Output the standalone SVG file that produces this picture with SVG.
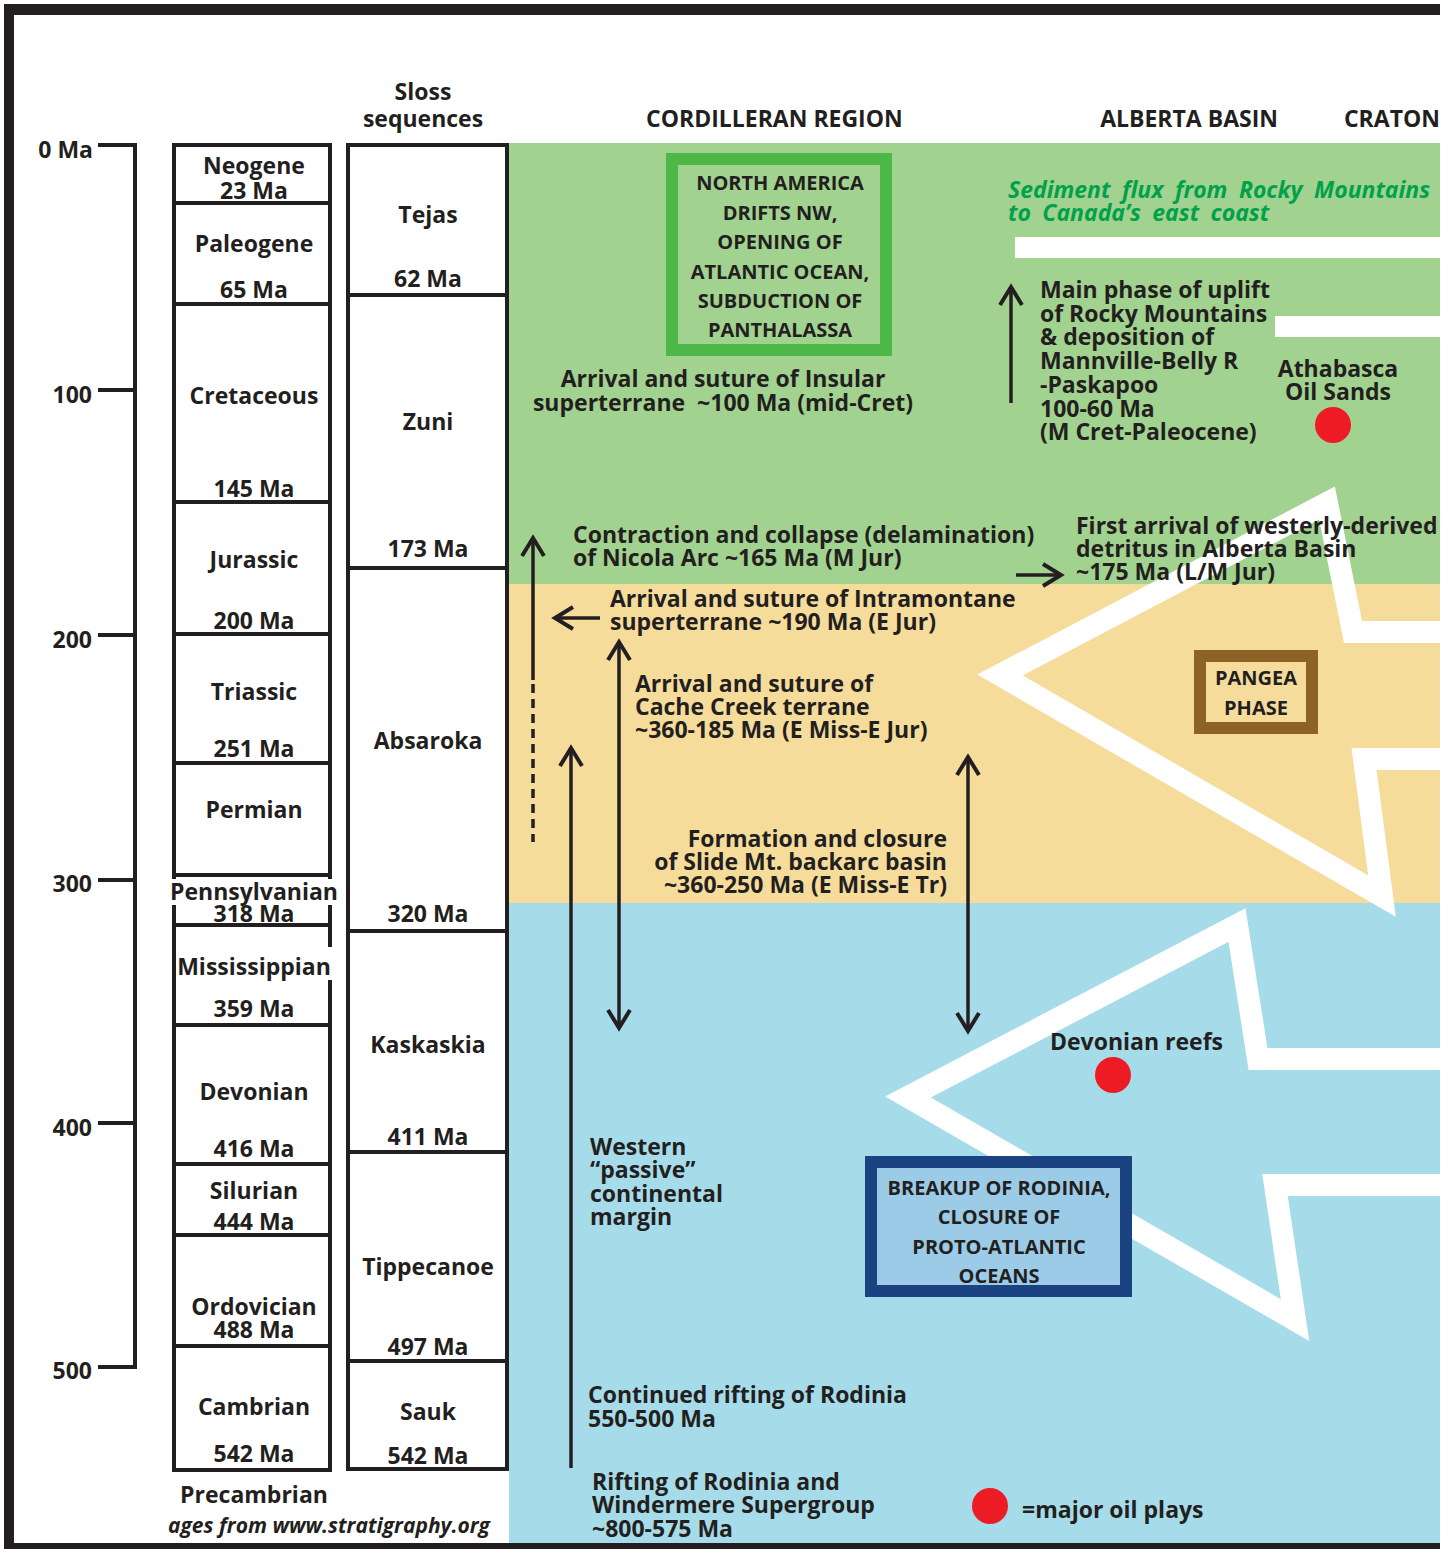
<svg xmlns="http://www.w3.org/2000/svg" width="1453" height="1549" viewBox="0 0 1453 1549">
<style>
.t{font-family:"Open Sans","Liberation Sans",sans-serif;font-weight:700;font-size:23px;fill:#231f20}
.c{text-anchor:middle}
.e{text-anchor:end}
.bx{font-size:20px}
.gi{font-style:italic;fill:#00a14b;word-spacing:5.5px}
.col{fill:#fff;stroke:#231f20;stroke-width:4}
.ln{stroke:#231f20;stroke-width:3.5;fill:none}
.wa{fill:none;stroke:#fff;stroke-width:22;stroke-linejoin:miter}
</style>
<defs>
<marker id="ah" markerUnits="userSpaceOnUse" markerWidth="30" markerHeight="30" viewBox="-22 -15 26 30" refX="0" refY="0" orient="auto-start-reverse" overflow="visible">
<path d="M-18,-11 L0,0 L-18,11" fill="none" stroke="#231f20" stroke-width="4"/>
</marker>
</defs>
<rect width="1453" height="1549" fill="#fff"/>
<g id="bands">
<rect x="509" y="143" width="931" height="441" fill="#a2d28f"/>
<rect x="509" y="584" width="931" height="319" fill="#f6dc9b"/>
<rect x="509" y="903" width="931" height="641" fill="#a6dce9"/>
</g>
<g id="frame" fill="#231f20">
<rect x="4" y="4" width="1436" height="11"/>
<rect x="4" y="4" width="10" height="1545"/>
<rect x="4" y="1543" width="1436" height="6"/>
</g>
<g id="white-arrows">
<polyline class="wa" points="1440,632 1353,632 1327,503 1000,675 1382,896 1364,759 1440,759"/>
<polyline class="wa" points="1440,1059 1258,1059 1237,925 908,1097 1295,1320 1275,1185 1440,1185"/>
<rect x="1015" y="237" width="425" height="21" fill="#fff"/>
<rect x="1275" y="316" width="165" height="21" fill="#fff"/>
</g>
<g id="headers">
<text class="t c" x="423" y="100">Sloss</text>
<text class="t c" x="423" y="127">sequences</text>
<text class="t" x="646" y="127">CORDILLERAN REGION</text>
<text class="t e" x="1278" y="127">ALBERTA BASIN</text>
<text class="t e" x="1440" y="127">CRATON</text>
</g>
<g id="scale">
<path d="M98,145 H135 V1367 H98 M98,390 H135 M98,635 H135 M98,880 H135 M98,1123 H135" fill="none" stroke="#231f20" stroke-width="4"/>
<text class="t e" x="93" y="158">0 Ma</text>
<text class="t e" x="92" y="403">100</text>
<text class="t e" x="92" y="648">200</text>
<text class="t e" x="92" y="892">300</text>
<text class="t e" x="92" y="1136">400</text>
<text class="t e" x="92" y="1379">500</text>
</g>
<g id="periods">
<g id="p-neogene"><rect class="col" x="174" y="145" width="156" height="58"/><text class="t c" x="254" y="174">Neogene</text><text class="t c" x="254" y="199">23 Ma</text></g>
<g id="p-paleogene"><rect class="col" x="174" y="203" width="156" height="101"/><text class="t c" x="254" y="252">Paleogene</text><text class="t c" x="254" y="298">65 Ma</text></g>
<g id="p-cretaceous"><rect class="col" x="174" y="304" width="156" height="198"/><text class="t c" x="254" y="404">Cretaceous</text><text class="t c" x="254" y="497">145 Ma</text></g>
<g id="p-jurassic"><rect class="col" x="174" y="502" width="156" height="132"/><text class="t c" x="254" y="568">Jurassic</text><text class="t c" x="254" y="629">200 Ma</text></g>
<g id="p-triassic"><rect class="col" x="174" y="634" width="156" height="129"/><text class="t c" x="254" y="700">Triassic</text><text class="t c" x="254" y="757">251 Ma</text></g>
<g id="p-permian"><rect class="col" x="174" y="763" width="156" height="112"/><text class="t c" x="254" y="818">Permian</text></g>
<g id="p-pennsylvanian"><rect class="col" x="174" y="875" width="156" height="50"/><rect x="168" y="879" width="170" height="26" fill="#fff"/><text class="t c" x="254" y="900">Pennsylvanian</text><text class="t c" x="254" y="922">318 Ma</text></g>
<g id="p-mississippian"><rect class="col" x="174" y="925" width="156" height="100"/><rect x="326" y="947" width="8" height="33" fill="#fff"/><text class="t c" x="254" y="975">Mississippian</text><text class="t c" x="254" y="1017">359 Ma</text></g>
<g id="p-devonian"><rect class="col" x="174" y="1025" width="156" height="139"/><text class="t c" x="254" y="1100">Devonian</text><text class="t c" x="254" y="1157">416 Ma</text></g>
<g id="p-silurian"><rect class="col" x="174" y="1164" width="156" height="71"/><text class="t c" x="254" y="1199">Silurian</text><text class="t c" x="254" y="1230">444 Ma</text></g>
<g id="p-ordovician"><rect class="col" x="174" y="1235" width="156" height="111"/><text class="t c" x="254" y="1315">Ordovician</text><text class="t c" x="254" y="1338">488 Ma</text></g>
<g id="p-cambrian"><rect class="col" x="174" y="1346" width="156" height="124"/><text class="t c" x="254" y="1415">Cambrian</text><text class="t c" x="254" y="1462">542 Ma</text></g>
<text class="t c" x="254" y="1503">Precambrian</text>
<text class="t c" x="329" y="1533" style="font-style:italic;font-size:21px">ages from www.stratigraphy.org</text>
</g>
<g id="sloss">
<g id="s-tejas"><rect class="col" x="348" y="145" width="159" height="150"/><text class="t c" x="428" y="223">Tejas</text><text class="t c" x="428" y="287">62 Ma</text></g>
<g id="s-zuni"><rect class="col" x="348" y="295" width="159" height="273"/><text class="t c" x="428" y="430">Zuni</text><text class="t c" x="428" y="557">173 Ma</text></g>
<g id="s-absaroka"><rect class="col" x="348" y="568" width="159" height="363"/><text class="t c" x="428" y="749">Absaroka</text><text class="t c" x="428" y="922">320 Ma</text></g>
<g id="s-kaskaskia"><rect class="col" x="348" y="931" width="159" height="221"/><text class="t c" x="428" y="1053">Kaskaskia</text><text class="t c" x="428" y="1145">411 Ma</text></g>
<g id="s-tippecanoe"><rect class="col" x="348" y="1152" width="159" height="209"/><text class="t c" x="428" y="1275">Tippecanoe</text><text class="t c" x="428" y="1355">497 Ma</text></g>
<g id="s-sauk"><rect class="col" x="348" y="1361" width="159" height="108"/><text class="t c" x="428" y="1420">Sauk</text><text class="t c" x="428" y="1464">542 Ma</text></g>
</g>
<g id="box-north-america">
<rect x="672" y="159" width="214" height="191" fill="#a2d28f" stroke="#4db748" stroke-width="12"/>
<text class="t c bx" x="780" y="190">NORTH AMERICA</text>
<text class="t c bx" x="780" y="220">DRIFTS NW,</text>
<text class="t c bx" x="780" y="249">OPENING OF</text>
<text class="t c bx" x="780" y="279">ATLANTIC OCEAN,</text>
<text class="t c bx" x="780" y="308">SUBDUCTION OF</text>
<text class="t c bx" x="780" y="337">PANTHALASSA</text>
</g>
<g id="box-pangea">
<rect x="1200" y="656" width="112" height="72" fill="#f6dc9b" stroke="#8c6227" stroke-width="12"/>
<text class="t c bx" x="1256" y="685">PANGEA</text>
<text class="t c bx" x="1256" y="715">PHASE</text>
</g>
<g id="box-rodinia">
<rect x="871" y="1162" width="255" height="129" fill="#9ccbe8" stroke="#1b4281" stroke-width="12"/>
<text class="t c bx" x="999" y="1195">BREAKUP OF RODINIA,</text>
<text class="t c bx" x="999" y="1224">CLOSURE OF</text>
<text class="t c bx" x="999" y="1254">PROTO-ATLANTIC</text>
<text class="t c bx" x="999" y="1283">OCEANS</text>
</g>
<g id="labels">
<text class="t gi" x="1008" y="198">Sediment flux from Rocky Mountains</text>
<text class="t gi" x="1008" y="221">to Canada’s east coast</text>
<text class="t c" x="723" y="387">Arrival and suture of Insular</text>
<text class="t c" x="723" y="411" xml:space="preserve">superterrane  ~100 Ma (mid-Cret)</text>
<text class="t" x="1040" y="298">Main phase of uplift</text>
<text class="t" x="1040" y="322">of Rocky Mountains</text>
<text class="t" x="1040" y="345">&amp; deposition of</text>
<text class="t" x="1040" y="369">Mannville-Belly R</text>
<text class="t" x="1040" y="393">-Paskapoo</text>
<text class="t" x="1040" y="417">100-60 Ma</text>
<text class="t" x="1040" y="440">(M Cret-Paleocene)</text>
<text class="t c" x="1338" y="377">Athabasca</text>
<text class="t c" x="1338" y="400">Oil Sands</text>
<circle cx="1333" cy="425" r="18" fill="#ed1c24"/>
<text class="t" x="573" y="543">Contraction and collapse (delamination)</text>
<text class="t" x="573" y="566">of Nicola Arc ~165 Ma (M Jur)</text>
<text class="t" x="1076" y="534">First arrival of westerly-derived</text>
<text class="t" x="1076" y="557">detritus in Alberta Basin</text>
<text class="t" x="1076" y="580">~175 Ma (L/M Jur)</text>
<text class="t" x="610" y="607">Arrival and suture of Intramontane</text>
<text class="t" x="610" y="630">superterrane ~190 Ma (E Jur)</text>
<text class="t" x="635" y="692">Arrival and suture of</text>
<text class="t" x="635" y="715">Cache Creek terrane</text>
<text class="t" x="635" y="738">~360-185 Ma (E Miss-E Jur)</text>
<text class="t e" x="947" y="847">Formation and closure</text>
<text class="t e" x="947" y="870">of Slide Mt. backarc basin</text>
<text class="t e" x="947" y="893">~360-250 Ma (E Miss-E Tr)</text>
<text class="t" x="1050" y="1050">Devonian reefs</text>
<circle cx="1113" cy="1075" r="18" fill="#ed1c24"/>
<text class="t" x="590" y="1155">Western</text>
<text class="t" x="590" y="1178">“passive”</text>
<text class="t" x="590" y="1202">continental</text>
<text class="t" x="590" y="1225">margin</text>
<text class="t" x="588" y="1403">Continued rifting of Rodinia</text>
<text class="t" x="588" y="1427">550-500 Ma</text>
<text class="t" x="592" y="1490">Rifting of Rodinia and</text>
<text class="t" x="592" y="1513">Windermere Supergroup</text>
<text class="t" x="592" y="1537">~800-575 Ma</text>
<circle cx="990" cy="1506" r="18" fill="#ed1c24"/>
<text class="t" x="1022" y="1518">=major oil plays</text>
</g>
<g id="connectors">
<line class="ln" x1="533" y1="680" x2="533" y2="538" marker-end="url(#ah)"/>
<line class="ln" x1="533" y1="684" x2="533" y2="842" stroke-dasharray="9 6"/>
<line class="ln" x1="619" y1="642" x2="619" y2="1028" marker-start="url(#ah)" marker-end="url(#ah)"/>
<line class="ln" x1="571" y1="1468" x2="571" y2="748" marker-end="url(#ah)"/>
<line class="ln" x1="968" y1="757" x2="968" y2="1031" marker-start="url(#ah)" marker-end="url(#ah)"/>
<line class="ln" x1="600" y1="618" x2="555" y2="618" marker-end="url(#ah)"/>
<line class="ln" x1="1016" y1="575" x2="1061" y2="575" marker-end="url(#ah)"/>
<line class="ln" x1="1011" y1="403" x2="1011" y2="287" marker-end="url(#ah)"/>
</g>
</svg>
